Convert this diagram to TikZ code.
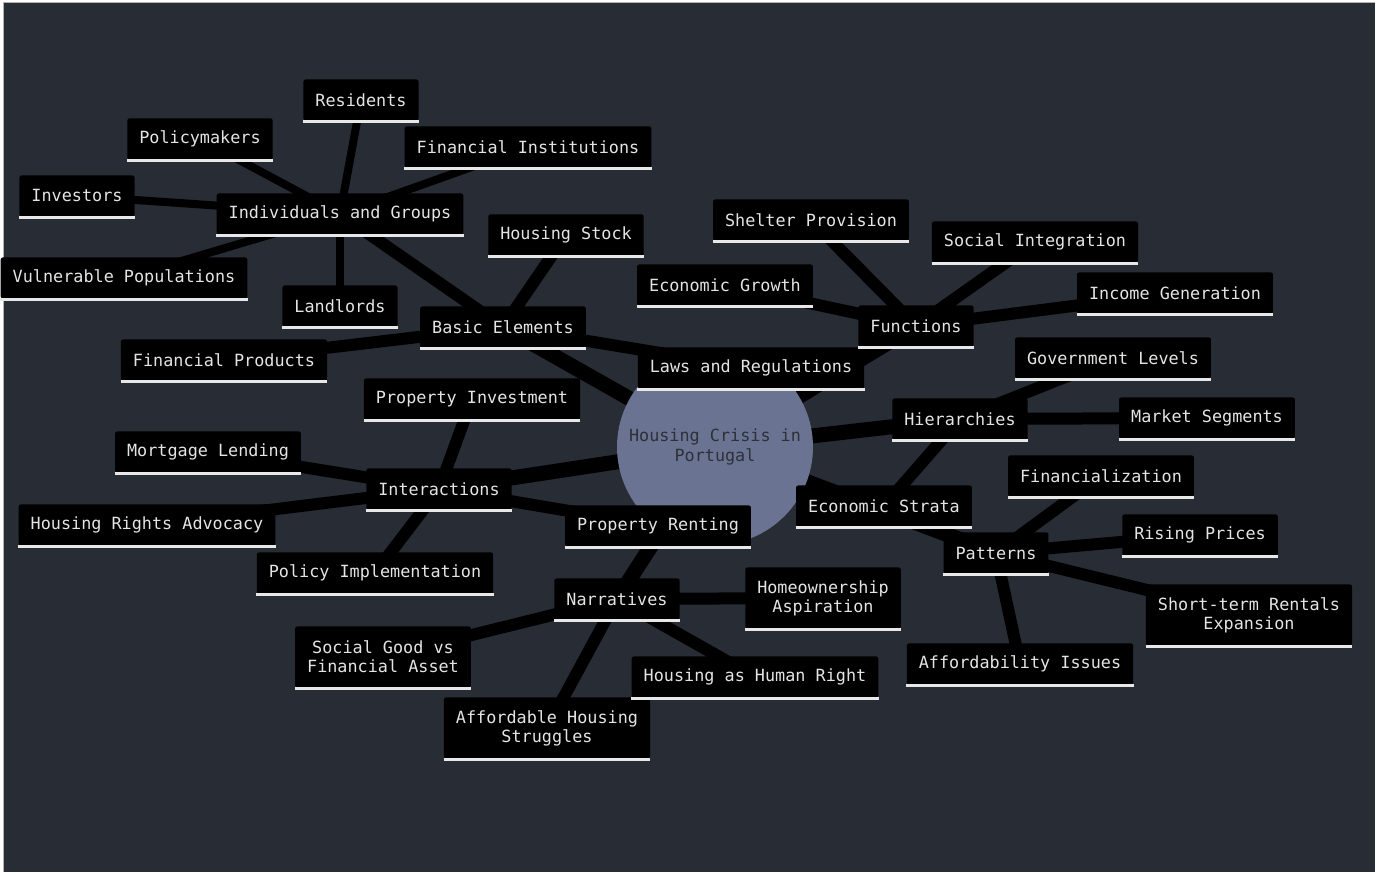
\documentclass[tikz,border=0pt]{standalone}
\usepackage{fontspec}
\setmonofont{DejaVu Sans Mono}
\usetikzlibrary{backgrounds}
\definecolor{bgdark}{RGB}{40,44,53}
\definecolor{hub}{RGB}{106,116,146}
\definecolor{boxtext}{RGB}{228,228,228}
\definecolor{hubtext}{RGB}{45,48,56}
\definecolor{uline}{RGB}{232,232,232}
\pgfdeclarelayer{bglayer}
\pgfdeclarelayer{edgelayer}
\pgfsetlayers{bglayer,edgelayer,main}
\tikzset{
  box/.style={fill=black, text=boxtext, rounded corners=1pt, inner xsep=6pt, inner ysep=0pt,
    minimum height=20.5pt, align=center, font=\ttfamily\fontsize{8.4}{9.6}\selectfont},
  tall/.style={minimum height=30.5pt},
  hubnode/.style={circle, fill=hub, text=hubtext, minimum size=98pt, inner sep=0pt, align=center,
    font=\ttfamily\fontsize{8.4}{9.8}\selectfont},
  e1/.style={line width=7.5pt, black},
  e2/.style={line width=6pt, black},
  e3/.style={line width=4pt, black},
  ul/.style={line width=1.4pt, uline}
}
\begin{document}
\begin{tikzpicture}[x=0.5pt,y=-0.5pt]
\useasboundingbox (0,0) rectangle (1378,876);
\begin{pgfonlayer}{bglayer}
\fill[white] (0,0) rectangle (1378,876);
\fill[bgdark] (3,3) rectangle (1375,872);
\draw[gray!60, line width=0.5pt] (3,3) -- (1375,3);
\draw[gray!60, line width=0.5pt] (3,3) -- (3,872);
\end{pgfonlayer}

% hub
\node[hubnode] (C) at (715,447) {Housing Crisis in\\Portugal};

% level 1
\node[box] (BE) at (503,327) {Basic Elements};
\node[box] (FN) at (916,326) {Functions};
\node[box] (HI) at (960,419) {Hierarchies};
\node[box] (PA) at (996,553) {Patterns};
\node[box] (IN) at (439,489) {Interactions};
\node[box] (NA) at (617,599) {Narratives};

% basic elements children
\node[box] (IG) at (340,214) {Individuals and Groups};
\node[box] (HS) at (566,235) {Housing Stock};
\node[box] (FP) at (224,360) {Financial Products};
\node[box] (LR) at (751,368) {Laws and Regulations};

% individuals children
\node[box] (RE) at (361,100) {Residents};
\node[box] (PM) at (200,139) {Policymakers};
\node[box] (FI) at (528,147) {Financial Institutions};
\node[box] (IV) at (77,196) {Investors};
\node[box] (VP) at (124,278) {Vulnerable Populations};
\node[box] (LL) at (340,306) {Landlords};

% functions children
\node[box] (SP) at (811,220) {Shelter Provision};
\node[box] (SI) at (1035,242) {Social Integration};
\node[box] (EG) at (725,285) {Economic Growth};
\node[box] (IC) at (1175,293) {Income Generation};

% hierarchies children
\node[box] (GL) at (1113,358) {Government Levels};
\node[box] (MS) at (1207,418) {Market Segments};
\node[box] (ES) at (884,506) {Economic Strata};

% patterns children
\node[box] (FZ) at (1101,476) {Financialization};
\node[box] (RP) at (1200,535) {Rising Prices};
\node[box,tall] (ST) at (1249,615) {Short-term Rentals\\Expansion};
\node[box] (AI) at (1020,664) {Affordability Issues};

% interactions children
\node[box] (PI) at (472,399) {Property Investment};
\node[box] (ML) at (208,452) {Mortgage Lending};
\node[box] (HR) at (147,525) {Housing Rights Advocacy};
\node[box] (PL) at (375,573) {Policy Implementation};
\node[box] (PR) at (658,526) {Property Renting};

% narratives children
\node[box,tall] (HA) at (823,598) {Homeownership\\Aspiration};
\node[box,tall] (SG) at (383,657) {Social Good vs\\Financial Asset};
\node[box] (HH) at (755,677) {Housing as Human Right};
\node[box,tall] (AH) at (547,728) {Affordable Housing\\Struggles};

\foreach \n in {BE,FN,HI,PA,IN,NA,IG,HS,FP,LR,RE,PM,FI,IV,VP,LL,SP,SI,EG,IC,GL,MS,ES,FZ,RP,ST,AI,PI,ML,HR,PL,PR,HA,SG,HH,AH}
  \draw[ul] ([yshift=-0.5pt]\n.south west) -- ([yshift=-0.5pt]\n.south east);

\begin{pgfonlayer}{edgelayer}
\foreach \n in {BE,FN,HI,PA,IN,NA} \draw[e1] (C.center) -- (\n.center);
\foreach \n in {IG,HS,FP,LR} \draw[e2] (BE.center) -- (\n.center);
\foreach \n in {RE,PM,FI,IV,VP,LL} \draw[e3] (IG.center) -- (\n.center);
\foreach \n in {SP,SI,EG,IC} \draw[e2] (FN.center) -- (\n.center);
\foreach \n in {GL,MS,ES} \draw[e2] (HI.center) -- (\n.center);
\foreach \n in {FZ,RP,ST,AI} \draw[e2] (PA.center) -- (\n.center);
\foreach \n in {PI,ML,HR,PL,PR} \draw[e2] (IN.center) -- (\n.center);
\foreach \n in {HA,SG,HH,AH} \draw[e2] (NA.center) -- (\n.center);
\end{pgfonlayer}
\end{tikzpicture}
\end{document}
